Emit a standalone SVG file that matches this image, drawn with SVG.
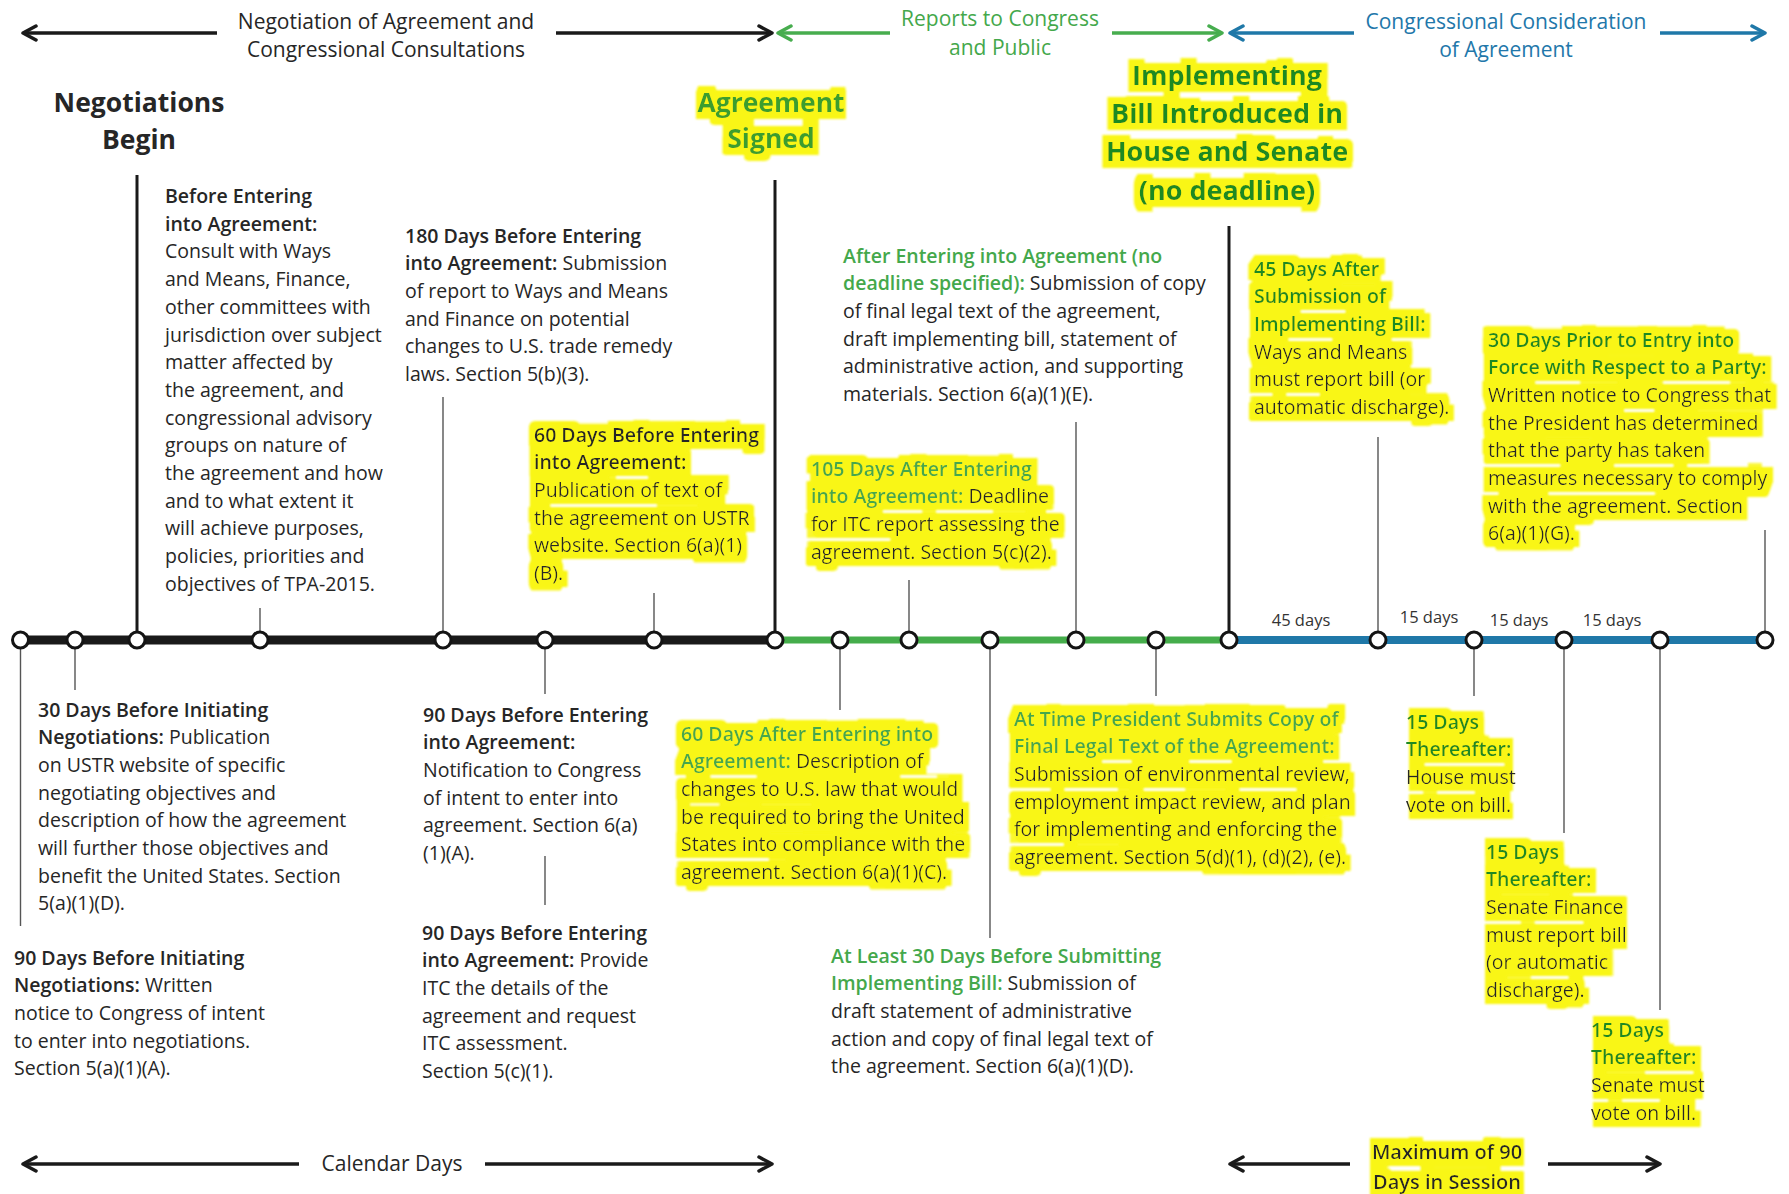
<svg xmlns="http://www.w3.org/2000/svg" width="1789" height="1194" viewBox="0 0 1789 1194">
<style>
.t{font-family:'Open Sans','Noto Sans','DejaVu Sans',sans-serif;font-size:19.5px;fill:#262626}
.b{font-weight:600}
.g{fill:#44a84b}
.dg{fill:#1e8a24}
.hdr{font-family:'Open Sans','Noto Sans','DejaVu Sans',sans-serif;font-size:21px}
.big{font-family:'Open Sans','Noto Sans','DejaVu Sans',sans-serif;font-size:26.5px;font-weight:700}
.day{font-family:'Open Sans','Noto Sans','DejaVu Sans',sans-serif;font-size:16.5px;fill:#333}
.tick{stroke:#555;stroke-width:1.4}
.pole{stroke:#1a1a1a;stroke-width:3}
.node{fill:#fff;stroke:#141414;stroke-width:3}
</style>
<defs>
<filter id="hl" x="-10%" y="-25%" width="120%" height="150%">
<feMorphology in="SourceAlpha" operator="dilate" radius="20 8" result="d"/>
<feMorphology in="d" operator="erode" radius="14 1" result="e"/>
<feGaussianBlur in="e" stdDeviation="1.2" result="bl"/>
<feFlood flood-color="#f9f612"/>
<feComposite in2="bl" operator="in" result="y"/>
<feMerge><feMergeNode in="y"/><feMergeNode in="SourceGraphic"/></feMerge>
</filter>
<marker id="ak" viewBox="0 0 18 18" refX="16" refY="9" markerWidth="18" markerHeight="18" markerUnits="userSpaceOnUse" orient="auto-start-reverse"><path d="M3,2 L16,9 L3,16" fill="none" stroke="#1a1a1a" stroke-width="3.5" stroke-linecap="round" stroke-linejoin="round"/></marker>
<marker id="ag" viewBox="0 0 18 18" refX="16" refY="9" markerWidth="18" markerHeight="18" markerUnits="userSpaceOnUse" orient="auto-start-reverse"><path d="M3,2 L16,9 L3,16" fill="none" stroke="#47ad4e" stroke-width="3.5" stroke-linecap="round" stroke-linejoin="round"/></marker>
<marker id="ab" viewBox="0 0 18 18" refX="16" refY="9" markerWidth="18" markerHeight="18" markerUnits="userSpaceOnUse" orient="auto-start-reverse"><path d="M3,2 L16,9 L3,16" fill="none" stroke="#1f78a8" stroke-width="3.5" stroke-linecap="round" stroke-linejoin="round"/></marker>
</defs>
<rect width="1789" height="1194" fill="#fff"/>

<!-- phase arrows -->
<g id="phase-arrows" fill="none" stroke-width="3.5">
<line x1="217" y1="33" x2="23" y2="33" stroke="#1a1a1a" marker-end="url(#ak)"/>
<line x1="556" y1="33" x2="772" y2="33" stroke="#1a1a1a" marker-end="url(#ak)"/>
<line x1="890" y1="33" x2="778" y2="33" stroke="#47ad4e" marker-end="url(#ag)"/>
<line x1="1112" y1="33" x2="1222" y2="33" stroke="#47ad4e" marker-end="url(#ag)"/>
<line x1="1354" y1="33" x2="1230" y2="33" stroke="#1f78a8" marker-end="url(#ab)"/>
<line x1="1660" y1="33" x2="1765" y2="33" stroke="#1f78a8" marker-end="url(#ab)"/>
<line x1="299" y1="1164" x2="23" y2="1164" stroke="#1a1a1a" marker-end="url(#ak)"/>
<line x1="485" y1="1164" x2="772" y2="1164" stroke="#1a1a1a" marker-end="url(#ak)"/>
<line x1="1350" y1="1164" x2="1230" y2="1164" stroke="#1a1a1a" marker-end="url(#ak)"/>
<line x1="1548" y1="1164" x2="1660" y2="1164" stroke="#1a1a1a" marker-end="url(#ak)"/>
</g>
<g id="phase-labels" class="hdr" text-anchor="middle">
<text x="386" y="29" fill="#262626">Negotiation of Agreement and</text>
<text x="386" y="57" fill="#262626">Congressional Consultations</text>
<text x="1000" y="26" fill="#44a84b">Reports to Congress</text>
<text x="1000" y="55" fill="#44a84b">and Public</text>
<text x="1506" y="29" fill="#2277aa">Congressional Consideration</text>
<text x="1506" y="57" fill="#2277aa">of Agreement</text>
<text x="392" y="1171" fill="#262626">Calendar Days</text>
</g>

<!-- connectors: timeline, poles and ticks -->
<g id="connectors">
<line x1="20" y1="640" x2="775" y2="640" stroke="#1a1a1a" stroke-width="9"/>
<line x1="775" y1="640" x2="1229" y2="640" stroke="#45ad4b" stroke-width="7"/>
<line x1="1229" y1="640" x2="1765" y2="640" stroke="#1f78a8" stroke-width="8"/>
<line class="pole" x1="137" y1="175" x2="137" y2="640"/>
<line class="pole" x1="775" y1="180" x2="775" y2="640"/>
<line class="pole" x1="1229" y1="226" x2="1229" y2="640"/>
<line class="tick" x1="20.5" y1="640" x2="20.5" y2="926"/>
<line class="tick" x1="75" y1="640" x2="75" y2="690"/>
<line class="tick" x1="260" y1="608" x2="260" y2="640"/>
<line class="tick" x1="443" y1="397" x2="443" y2="640"/>
<line class="tick" x1="545" y1="640" x2="545" y2="694"/>
<line class="tick" x1="545" y1="856" x2="545" y2="905"/>
<line class="tick" x1="654" y1="593" x2="654" y2="640"/>
<line class="tick" x1="840" y1="640" x2="840" y2="710"/>
<line class="tick" x1="909" y1="580" x2="909" y2="640"/>
<line class="tick" x1="990" y1="640" x2="990" y2="938"/>
<line class="tick" x1="1076" y1="422" x2="1076" y2="640"/>
<line class="tick" x1="1156" y1="640" x2="1156" y2="696"/>
<line class="tick" x1="1378" y1="437" x2="1378" y2="640"/>
<line class="tick" x1="1474" y1="640" x2="1474" y2="696"/>
<line class="tick" x1="1564" y1="640" x2="1564" y2="833"/>
<line class="tick" x1="1660" y1="640" x2="1660" y2="1010"/>
<line class="tick" x1="1765" y1="530" x2="1765" y2="640"/>
</g>
<g id="timeline-nodes">
<circle class="node" cx="20.5" cy="640" r="8"/>
<circle class="node" cx="75" cy="640" r="8"/>
<circle class="node" cx="137" cy="640" r="8"/>
<circle class="node" cx="260" cy="640" r="8"/>
<circle class="node" cx="443" cy="640" r="8"/>
<circle class="node" cx="545" cy="640" r="8"/>
<circle class="node" cx="654" cy="640" r="8"/>
<circle class="node" cx="775" cy="640" r="8"/>
<circle class="node" cx="840" cy="640" r="8"/>
<circle class="node" cx="909" cy="640" r="8"/>
<circle class="node" cx="990" cy="640" r="8"/>
<circle class="node" cx="1076" cy="640" r="8"/>
<circle class="node" cx="1156" cy="640" r="8"/>
<circle class="node" cx="1229" cy="640" r="8"/>
<circle class="node" cx="1378" cy="640" r="8"/>
<circle class="node" cx="1474" cy="640" r="8"/>
<circle class="node" cx="1564" cy="640" r="8"/>
<circle class="node" cx="1660" cy="640" r="8"/>
<circle class="node" cx="1765" cy="640" r="8"/>
</g>
<g id="interval-labels" class="day" text-anchor="middle">
<text x="1301" y="626">45 days</text>
<text x="1429" y="623">15 days</text>
<text x="1519" y="626">15 days</text>
<text x="1612" y="626">15 days</text>
</g>

<!-- milestones -->
<g id="negotiations-begin" class="big" text-anchor="middle" fill="#262626">
<text x="139" y="112">Negotiations</text>
<text x="139" y="149">Begin</text>
</g>
<g id="agreement-signed" class="big" text-anchor="middle" fill="#3a9e2f" filter="url(#hl)">
<text x="771" y="112">Agreement</text>
<text x="771" y="148">Signed</text>
</g>
<g id="bill-introduced" class="big" text-anchor="middle" fill="#1b8a22" filter="url(#hl)" style="font-size:27px">
<text x="1227" y="85">Implementing</text>
<text x="1227" y="123">Bill Introduced in</text>
<text x="1227" y="161">House and Senate</text>
<text x="1227" y="200">(no deadline)</text>
</g>

<!-- upper notes -->
<g id="before-entering" class="t">
<text x="165" y="203" class="b">Before Entering</text>
<text x="165" y="230.7" class="b">into Agreement:</text>
<text x="165" y="258.4">Consult with Ways</text>
<text x="165" y="286.1">and Means, Finance,</text>
<text x="165" y="313.8">other committees with</text>
<text x="165" y="341.5">jurisdiction over subject</text>
<text x="165" y="369.2">matter affected by</text>
<text x="165" y="396.9">the agreement, and</text>
<text x="165" y="424.6">congressional advisory</text>
<text x="165" y="452.3">groups on nature of</text>
<text x="165" y="480">the agreement and how</text>
<text x="165" y="507.7">and to what extent it</text>
<text x="165" y="535.4">will achieve purposes,</text>
<text x="165" y="563.1">policies, priorities and</text>
<text x="165" y="590.8">objectives of TPA-2015.</text>
</g>
<g id="days180-before" class="t">
<text x="405" y="242.5" class="b">180 Days Before Entering</text>
<text x="405" y="270.2"><tspan class="b">into Agreement:</tspan> Submission</text>
<text x="405" y="297.9">of report to Ways and Means</text>
<text x="405" y="325.6">and Finance on potential</text>
<text x="405" y="353.3">changes to U.S. trade remedy</text>
<text x="405" y="381">laws. Section 5(b)(3).</text>
</g>
<g id="days60-before" class="t" filter="url(#hl)">
<text x="534" y="441.5" class="b">60 Days Before Entering</text>
<text x="534" y="469.2" class="b">into Agreement:</text>
<text x="534" y="496.9">Publication of text of</text>
<text x="534" y="524.6">the agreement on USTR</text>
<text x="534" y="552.3">website. Section 6(a)(1)</text>
<text x="534" y="580">(B).</text>
</g>
<g id="after-entering" class="t">
<text x="843" y="262.5" class="b g">After Entering into Agreement (no</text>
<text x="843" y="290.2"><tspan class="b g">deadline specified):</tspan> Submission of copy</text>
<text x="843" y="317.9">of final legal text of the agreement,</text>
<text x="843" y="345.6">draft implementing bill, statement of</text>
<text x="843" y="373.3">administrative action, and supporting</text>
<text x="843" y="401">materials. Section 6(a)(1)(E).</text>
</g>
<g id="days105-after" class="t" filter="url(#hl)">
<text x="811" y="475.5" class="b g">105 Days After Entering</text>
<text x="811" y="503.2"><tspan class="b g">into Agreement:</tspan> Deadline</text>
<text x="811" y="530.9">for ITC report assessing the</text>
<text x="811" y="558.6">agreement. Section 5(c)(2).</text>
</g>
<g id="days45-after" class="t" filter="url(#hl)">
<text x="1254" y="275.5" class="b dg">45 Days After</text>
<text x="1254" y="303.2" class="b dg">Submission of</text>
<text x="1254" y="330.9" class="b dg">Implementing Bill:</text>
<text x="1254" y="358.6">Ways and Means</text>
<text x="1254" y="386.3">must report bill (or</text>
<text x="1254" y="414">automatic discharge).</text>
</g>
<g id="days30-prior" class="t" filter="url(#hl)">
<text x="1488" y="346.5" class="b dg">30 Days Prior to Entry into</text>
<text x="1488" y="374.2" class="b dg">Force with Respect to a Party:</text>
<text x="1488" y="401.9">Written notice to Congress that</text>
<text x="1488" y="429.6">the President has determined</text>
<text x="1488" y="457.3">that the party has taken</text>
<text x="1488" y="485">measures necessary to comply</text>
<text x="1488" y="512.7">with the agreement. Section</text>
<text x="1488" y="540.4">6(a)(1)(G).</text>
</g>

<!-- lower notes -->
<g id="days30-before-init" class="t">
<text x="38" y="716.5" class="b">30 Days Before Initiating</text>
<text x="38" y="744.2"><tspan class="b">Negotiations:</tspan> Publication</text>
<text x="38" y="771.9">on USTR website of specific</text>
<text x="38" y="799.6">negotiating objectives and</text>
<text x="38" y="827.3">description of how the agreement</text>
<text x="38" y="855">will further those objectives and</text>
<text x="38" y="882.7">benefit the United States. Section</text>
<text x="38" y="910.4">5(a)(1)(D).</text>
</g>
<g id="days90-before-init" class="t">
<text x="14" y="964.5" class="b">90 Days Before Initiating</text>
<text x="14" y="992.2"><tspan class="b">Negotiations:</tspan> Written</text>
<text x="14" y="1019.9">notice to Congress of intent</text>
<text x="14" y="1047.6">to enter into negotiations.</text>
<text x="14" y="1075.3">Section 5(a)(1)(A).</text>
</g>
<g id="days90-notify" class="t">
<text x="423" y="721.5" class="b">90 Days Before Entering</text>
<text x="423" y="749.2" class="b">into Agreement:</text>
<text x="423" y="776.9">Notification to Congress</text>
<text x="423" y="804.6">of intent to enter into</text>
<text x="423" y="832.3">agreement. Section 6(a)</text>
<text x="423" y="860">(1)(A).</text>
</g>
<g id="days90-itc" class="t">
<text x="422" y="939.5" class="b">90 Days Before Entering</text>
<text x="422" y="967.2"><tspan class="b">into Agreement:</tspan> Provide</text>
<text x="422" y="994.9">ITC the details of the</text>
<text x="422" y="1022.6">agreement and request</text>
<text x="422" y="1050.3">ITC assessment.</text>
<text x="422" y="1078">Section 5(c)(1).</text>
</g>
<g id="days60-after" class="t" filter="url(#hl)">
<text x="681" y="740.5" class="b g">60 Days After Entering into</text>
<text x="681" y="768.2"><tspan class="b g">Agreement:</tspan> Description of</text>
<text x="681" y="795.9">changes to U.S. law that would</text>
<text x="681" y="823.6">be required to bring the United</text>
<text x="681" y="851.3">States into compliance with the</text>
<text x="681" y="879">agreement. Section 6(a)(1)(C).</text>
</g>
<g id="days30-before-bill" class="t">
<text x="831" y="962.5" class="b g">At Least 30 Days Before Submitting</text>
<text x="831" y="990.2"><tspan class="b g">Implementing Bill:</tspan> Submission of</text>
<text x="831" y="1017.9">draft statement of administrative</text>
<text x="831" y="1045.6">action and copy of final legal text of</text>
<text x="831" y="1073.3">the agreement. Section 6(a)(1)(D).</text>
</g>
<g id="president-submits" class="t" filter="url(#hl)">
<text x="1014" y="725.5" class="b g">At Time President Submits Copy of</text>
<text x="1014" y="753.2" class="b g">Final Legal Text of the Agreement:</text>
<text x="1014" y="780.9">Submission of environmental review,</text>
<text x="1014" y="808.6">employment impact review, and plan</text>
<text x="1014" y="836.3">for implementing and enforcing the</text>
<text x="1014" y="864">agreement. Section 5(d)(1), (d)(2), (e).</text>
</g>
<g id="house-vote" class="t" filter="url(#hl)">
<text x="1406" y="728.5" class="b dg">15 Days</text>
<text x="1406" y="756.2" class="b dg">Thereafter:</text>
<text x="1406" y="783.9">House must</text>
<text x="1406" y="811.6">vote on bill.</text>
</g>
<g id="senate-finance" class="t" filter="url(#hl)">
<text x="1486" y="858.5" class="b dg">15 Days</text>
<text x="1486" y="886.2" class="b dg">Thereafter:</text>
<text x="1486" y="913.9">Senate Finance</text>
<text x="1486" y="941.6">must report bill</text>
<text x="1486" y="969.3">(or automatic</text>
<text x="1486" y="997">discharge).</text>
</g>
<g id="senate-vote" class="t" filter="url(#hl)">
<text x="1591" y="1036.5" class="b dg">15 Days</text>
<text x="1591" y="1064.2" class="b dg">Thereafter:</text>
<text x="1591" y="1091.9">Senate must</text>
<text x="1591" y="1119.6">vote on bill.</text>
</g>
<g id="max-90-days" class="t b" text-anchor="middle" filter="url(#hl)" style="font-size:20px">
<text x="1447" y="1159">Maximum of 90</text>
<text x="1447" y="1189">Days in Session</text>
</g>
</svg>
